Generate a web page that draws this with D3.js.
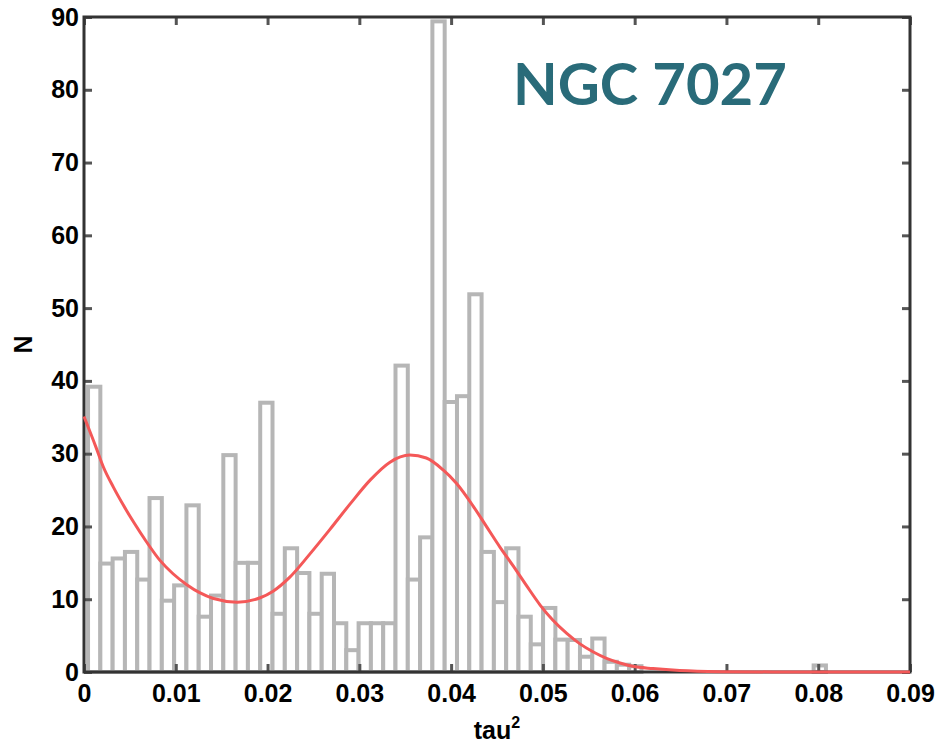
<!DOCTYPE html>
<html>
<head>
<meta charset="utf-8">
<script src="https://cdn.jsdelivr.net/npm/d3@7"></script>
<style>
  html, body { margin: 0; padding: 0; background: #fff; }
  svg { display: block; }
</style>
</head>
<body>
<div id="vis"></div>
<script>

// histogram of tau^2, 60 equal bins
const binStart = 0.00044;
const binWidth = 0.00134;
const counts = [
  39.2, 14.9, 15.6, 16.5, 12.7, 23.9, 9.8, 11.9, 22.9, 7.6,
  10.5, 29.8, 15, 15, 37, 8, 17, 13.6, 8, 13.5,
  6.7, 3, 6.7, 6.7, 6.7, 42.1, 12.7, 18.5, 89.4, 37.1,
  37.9, 51.9, 16.5, 9.6, 17, 7.6, 3.8, 8.8, 4.45, 4.4,
  2.1, 4.6, 1.4, 1.0, 0.8, 0, 0, 0, 0, 0,
  0, 0, 0, 0, 0, 0, 0, 0, 0, 0.9
];

// fitted curve (red)
const fitX = [0, 0.0013, 0.0021, 0.0032, 0.0043, 0.0054, 0.0068, 0.0083, 0.0097, 0.0112,
  0.0126, 0.0141, 0.0167, 0.0192, 0.0206, 0.0224, 0.0246, 0.0268, 0.0290, 0.0312,
  0.0333, 0.0355, 0.0373, 0.0391, 0.0406, 0.0424, 0.0439, 0.0453, 0.0468, 0.0482,
  0.0497, 0.0511, 0.0526, 0.0540, 0.0555, 0.0570, 0.0584, 0.0598, 0.0620, 0.0649,
  0.0693, 0.0750, 0.0900];
const fitN = [35.1, 30.9, 28.2, 25.4, 22.9, 20.6, 17.9, 15.3, 13.5, 12.0,
  10.9, 10.1, 9.6, 10.2, 11.1, 13.0, 16.2, 19.6, 23.1, 26.4,
  28.8, 29.8, 29.4, 27.8, 25.9, 22.8, 19.9, 17.2, 14.5, 11.9,
  9.2, 7.1, 5.3, 3.9, 2.75, 1.84, 1.24, 0.78, 0.47, 0.2,
  0.05, 0.01, 0];

const xTicks = [0, 0.01, 0.02, 0.03, 0.04, 0.05, 0.06, 0.07, 0.08, 0.09];
const xTickLabels = ["0", "0.01", "0.02", "0.03", "0.04", "0.05", "0.06", "0.07", "0.08", "0.09"];
const yTicks = [0, 10, 20, 30, 40, 50, 60, 70, 80, 90];

const title = "NGC 7027";

////////////////////////////////////////
/////////////// Options ////////////////
////////////////////////////////////////

const options = {
  width: 935,
  height: 744,
  margin: { top: 17, right: 25, bottom: 72, left: 84 },
  barStroke: "#b6b6b6",
  curve: "#f45858",
  frame: "#333",
  font: "'Liberation Sans', Arial, sans-serif",
  fontSize: 25,
  titleColor: "#296b79"
};

const width = options.width - options.margin.left - options.margin.right;
const height = options.height - options.margin.top - options.margin.bottom;

////////////////////////////////////////
////////////// SVG Setup ///////////////
////////////////////////////////////////

const root = d3.select("#vis").append("svg")
  .attr("width", options.width)
  .attr("height", options.height)
  .style("background", "#fff");

const svg = root.append("g")
  .attr("transform", `translate(${options.margin.left},${options.margin.top})`);

////////////////////////////////////////
////////////// Scales //////////////////
////////////////////////////////////////

const x = d3.scaleLinear().domain([0, 0.09]).range([0, width]);
const y = d3.scaleLinear().domain([0, 90]).range([height, 0]);

////////////////////////////////////////
////////////// Bars ////////////////////
////////////////////////////////////////

const bins = counts.map((c, i) => ({ x0: binStart + i * binWidth, x1: binStart + (i + 1) * binWidth, n: c }))
  .filter(d => d.n > 0);

svg.append("g")
  .selectAll("rect")
  .data(bins)
  .join("rect")
  .attr("x", d => x(d.x0))
  .attr("width", d => x(d.x1) - x(d.x0))
  .attr("y", d => y(d.n))
  .attr("height", d => y(0) - y(d.n))
  .attr("fill", "#fff")
  .attr("stroke", options.barStroke)
  .attr("stroke-width", 4);

////////////////////////////////////////
////////////// Axes ////////////////////
////////////////////////////////////////

const styleAxis = g => {
  g.select(".domain").remove();
  g.selectAll(".tick line").attr("stroke", "#555").attr("stroke-width", 3);
  g.selectAll(".tick text")
    .attr("fill", "#000")
    .style("font-family", options.font)
    .style("font-size", options.fontSize + "px")
    .style("font-weight", "bold");
};

svg.append("g")
  .attr("transform", `translate(0,${height})`)
  .call(d3.axisBottom(x).tickValues(xTicks).tickFormat((d, i) => xTickLabels[i]).tickSize(-8).tickSizeOuter(0).tickPadding(12))
  .call(styleAxis);

svg.append("g")
  .call(d3.axisTop(x).tickValues(xTicks).tickFormat("").tickSize(-8).tickSizeOuter(0))
  .call(styleAxis);

svg.append("g")
  .call(d3.axisLeft(y).tickValues(yTicks).tickSize(-8).tickSizeOuter(0).tickPadding(5))
  .call(styleAxis);

svg.append("g")
  .attr("transform", `translate(${width},0)`)
  .call(d3.axisRight(y).tickValues(yTicks).tickFormat("").tickSize(-8).tickSizeOuter(0))
  .call(styleAxis);

// frame
svg.append("rect")
  .attr("width", width)
  .attr("height", height)
  .attr("fill", "none")
  .attr("stroke", options.frame)
  .attr("stroke-width", 3);

////////////////////////////////////////
////////////// Fit curve ///////////////
////////////////////////////////////////

const line = d3.line()
  .x((d, i) => x(fitX[i]))
  .y(d => y(d))
  .curve(d3.curveMonotoneX);

svg.append("path")
  .datum(fitN)
  .attr("d", line)
  .attr("fill", "none")
  .attr("stroke", options.curve)
  .attr("stroke-width", 3);

////////////////////////////////////////
////////////// Labels //////////////////
////////////////////////////////////////

const xlab = svg.append("text")
  .attr("x", width / 2)
  .attr("y", height + 67)
  .attr("text-anchor", "middle")
  .style("font-family", options.font)
  .style("font-size", options.fontSize + "px")
  .style("font-weight", "bold");
xlab.append("tspan").text("tau");
xlab.append("tspan").attr("dy", -11).style("font-size", "16px").text("2");

svg.append("text")
  .attr("transform", `translate(-52,${height / 2}) rotate(-90)`)
  .attr("text-anchor", "middle")
  .style("font-family", options.font)
  .style("font-size", options.fontSize + "px")
  .style("font-weight", "bold")
  .text("N");

root.append("text")
  .attr("x", 513)
  .attr("y", 105)
  .attr("fill", options.titleColor)
  .style("font-family", "Lato, 'Open Sans', sans-serif")
  .style("font-size", "58px")
  .style("font-weight", "bold")
  .text(title);

</script>
</body>
</html>
